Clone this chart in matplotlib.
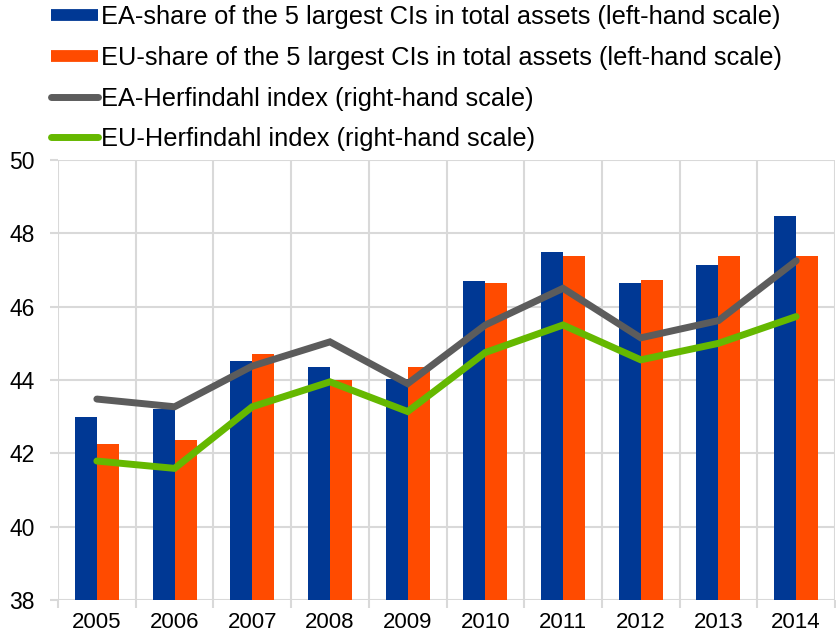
import matplotlib
matplotlib.use("Agg")
import matplotlib.pyplot as plt
from matplotlib.lines import Line2D
import numpy as np

years = ["2005", "2006", "2007", "2008", "2009", "2010", "2011", "2012", "2013", "2014"]
ea_share = [43.0, 43.2, 44.52, 44.35, 44.03, 46.7, 47.48, 46.64, 47.15, 48.47]
eu_share = [42.25, 42.36, 44.7, 44.0, 44.36, 46.64, 47.38, 46.72, 47.38, 47.38]
ea_herf = [43.48, 43.27, 44.38, 45.04, 43.9, 45.5, 46.5, 45.15, 45.62, 47.25]
eu_herf = [41.79, 41.59, 43.27, 43.95, 43.14, 44.75, 45.5, 44.55, 45.0, 45.73]

labels = ["EA-share of the 5 largest CIs in total assets (left-hand scale)",
          "EU-share of the 5 largest CIs in total assets (left-hand scale)",
          "EA-Herfindahl index (right-hand scale)",
          "EU-Herfindahl index (right-hand scale)"]

BLUE = "#003894"
ORANGE = "#FF4B00"
GRAY = "#5C5C5C"
GREEN = "#65B800"
GRID = "#D9D9D9"

plt.rcParams['font.family'] = ['Liberation Sans', 'DejaVu Sans']

fig = plt.figure(figsize=(8.36, 6.38), dpi=100)
W, H = 836, 638
ax = fig.add_axes([58 / W, (H - 600) / H, (835 - 58) / W, (600 - 160) / H])

x = np.arange(len(years))
bw = 0.283
ax.bar(x - bw / 2, [v - 38 for v in ea_share], bw, bottom=38, color=BLUE, zorder=2)
ax.bar(x + bw / 2, [v - 38 for v in eu_share], bw, bottom=38, color=ORANGE, zorder=2)
ax.plot(x, ea_herf, color=GRAY, lw=5, zorder=3, solid_capstyle='round', solid_joinstyle='miter')
ax.plot(x, eu_herf, color=GREEN, lw=5, zorder=3, solid_capstyle='round', solid_joinstyle='miter')

ax.set_xlim(-0.5, len(years) - 0.5)
ax.set_ylim(38, 50)
ax.set_yticks(np.arange(38, 51, 2))
ax.set_xticks(x)
ax.set_xticklabels(years)
ax.set_xticks(np.arange(-0.5, len(years), 1), minor=True)

for s in ax.spines.values():
    s.set_visible(False)
ax.grid(True, axis='y', color=GRID, lw=1.5, zorder=0)
ax.grid(True, axis='x', which='minor', color=GRID, lw=1.5, zorder=0)
ax.tick_params(axis='x', which='major', length=0, labelsize=16, pad=9, colors='black')
ax.tick_params(axis='x', which='minor', length=6, width=1.5, color=GRID)
ax.tick_params(axis='y', length=6, width=1.5, color=GRID, labelsize=16.5, pad=11, labelcolor='black')

handles = [
    Line2D([0], [0], color=BLUE, lw=8.5, solid_capstyle='butt'),
    Line2D([0], [0], color=ORANGE, lw=8.5, solid_capstyle='butt'),
    Line2D([0], [0], color=GRAY, lw=5, solid_capstyle='round'),
    Line2D([0], [0], color=GREEN, lw=5, solid_capstyle='round'),
]
fig.legend(handles, labels, loc='upper left', bbox_to_anchor=(51 / W, 1 - 5 / H),
           frameon=False, fontsize=18.3, handlelength=1.85, handletextpad=0.13,
           labelspacing=0.66, borderaxespad=0, borderpad=0)

fig.savefig("out.png", dpi=100)
